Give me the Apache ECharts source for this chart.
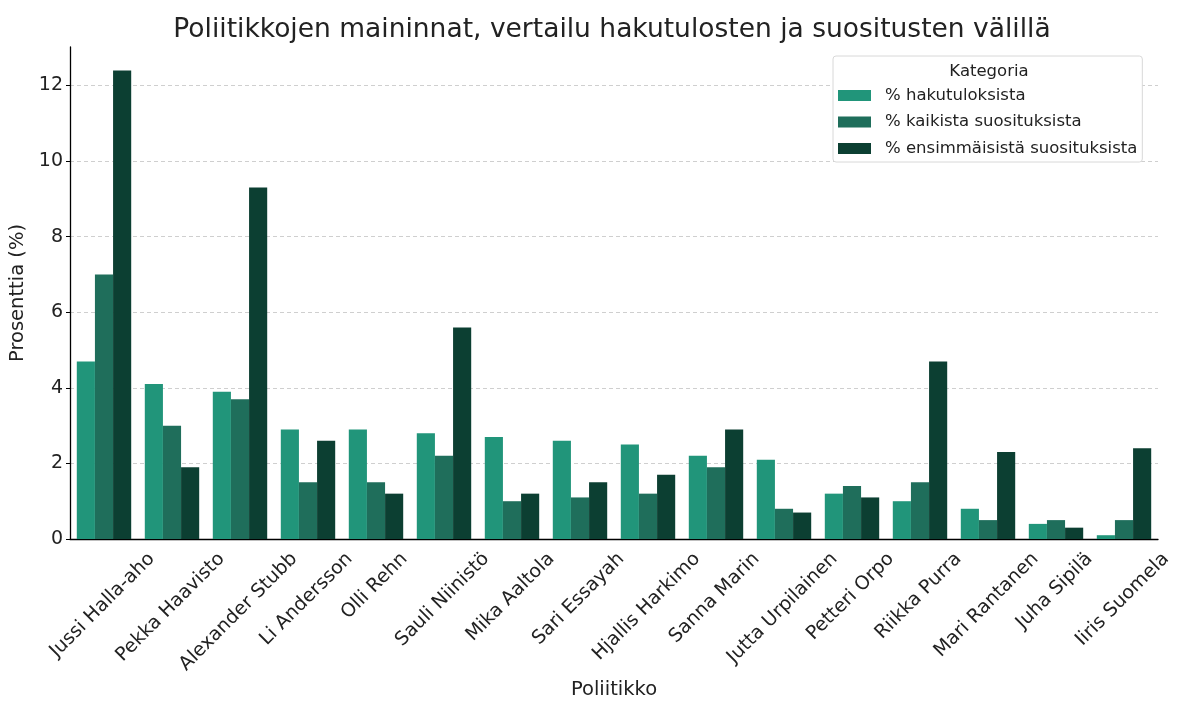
<!DOCTYPE html>
<html><head><meta charset="utf-8">
<script src="https://cdn.jsdelivr.net/npm/echarts@6/dist/echarts.min.js"></script>
<style>html,body{margin:0;padding:0;background:#fff}#c{width:1180px;height:701px}</style>
</head><body><div id="c"></div>
<script>
const categories = ["Jussi Halla-aho","Pekka Haavisto","Alexander Stubb","Li Andersson","Olli Rehn","Sauli Niinistö","Mika Aaltola","Sari Essayah","Hjallis Harkimo","Sanna Marin","Jutta Urpilainen","Petteri Orpo","Riikka Purra","Mari Rantanen","Juha Sipilä","Iiris Suomela"];
const seriesNames = ["% hakutuloksista","% kaikista suosituksista","% ensimmäisistä suosituksista"];
const hakutuloksista = [4.7,4.1,3.9,2.9,2.9,2.8,2.7,2.6,2.5,2.2,2.1,1.2,1.0,0.8,0.4,0.1];
const kaikista = [7.0,3.0,3.7,1.5,1.5,2.2,1.0,1.1,1.2,1.9,0.8,1.4,1.5,0.5,0.5,0.5];
const ensimmaisista = [12.4,1.9,9.3,2.6,1.2,5.6,1.2,1.5,1.7,2.9,0.7,1.1,4.7,2.3,0.3,2.4];
const yTicks = [0,2,4,6,8,10,12];
const colors = ["#21957a","#1f6e5b","#0c3f32"];
const font = "DejaVu Sans";
const labelSize = 19;

const chart = echarts.init(document.getElementById('c'));
const data = [hakutuloksista, kaikista, ensimmaisista];
chart.setOption({
  animation:false,
  textStyle:{fontFamily:font},
  title:[
    {text:"Poliitikkojen maininnat, vertailu hakutulosten ja suositusten välillä",left:612,textAlign:'center',top:17,padding:0,
     textStyle:{fontFamily:font,fontSize:26.5,fontWeight:'normal',color:'#222'}},
    {text:"Kategoria",left:989,textAlign:'center',top:63,padding:0,textStyle:{fontFamily:font,fontSize:16.5,fontWeight:'normal',color:'#222'}}
  ],
  legend:{orient:'vertical',left:833,top:56,padding:[31,5,5,5],itemGap:9.5,itemWidth:33,itemHeight:11,
    backgroundColor:'#fff',borderColor:'#d8d8d8',borderWidth:1,borderRadius:3,
    textStyle:{fontFamily:font,fontSize:16.5,color:'#222',padding:[0,0,0,9]},icon:'rect',data:seriesNames},
  grid:{left:70,right:22,top:47,bottom:162,containLabel:false,outerBoundsMode:'none'},
  xAxis:{type:'category',data:categories,
    axisLine:{lineStyle:{color:'#000',width:1.3}},
    axisTick:{show:true,inside:true,alignWithLabel:true,length:4,lineStyle:{color:'#000'}},
    axisLabel:{show:false},
    name:"Poliitikko",nameLocation:'middle',nameGap:141,nameTextStyle:{fontSize:19.5,color:'#222',fontFamily:font}},
  yAxis:{type:'value',min:0,max:13.02,interval:2,
    axisLine:{show:true,lineStyle:{color:'#000',width:1.3}},
    axisTick:{show:true,inside:false,length:4,lineStyle:{color:'#000'}},
    axisLabel:{fontSize:19,color:'#222',fontFamily:font,showMaxLabel:false,margin:7,
      formatter:v=>yTicks.includes(v)?String(v):''},
    splitLine:{show:true,showMinLine:false,showMaxLine:false,lineStyle:{color:'#cfcfcf',type:[4,3],width:1}},
    name:"Prosenttia (%)",nameLocation:'middle',nameGap:37,nameRotate:90,nameTextStyle:{fontSize:19.5,color:'#222',fontFamily:font}},
  series:seriesNames.map((n,i)=>({name:n,type:'bar',data:data[i],barGap:'0%',barCategoryGap:'20%',itemStyle:{color:colors[i]}}))
});

// category tick labels: rotated 45°, bounding box centred under the tick (matplotlib style)
const cv = document.createElement('canvas').getContext('2d');
cv.font = labelSize + 'px "' + font + '"';
const s45 = Math.SQRT1_2;
const axisY = chart.convertToPixel({yAxisIndex:0}, 0);
const labels = categories.map((name,i) => {
  const tx = chart.convertToPixel({xAxisIndex:0}, name);
  const L = cv.measureText(name).width;
  const h = labelSize*1.05;
  const H = (L + h) * s45;
  return {type:'text', x: tx - 1.5, y: axisY + 10 + H/2, rotation: Math.PI/4, silent:true,
    style:{text:name, fontFamily:font, fontSize:labelSize, fill:'#222', align:'center', verticalAlign:'middle'}};
});
chart.setOption({graphic: labels});
</script></body></html>
